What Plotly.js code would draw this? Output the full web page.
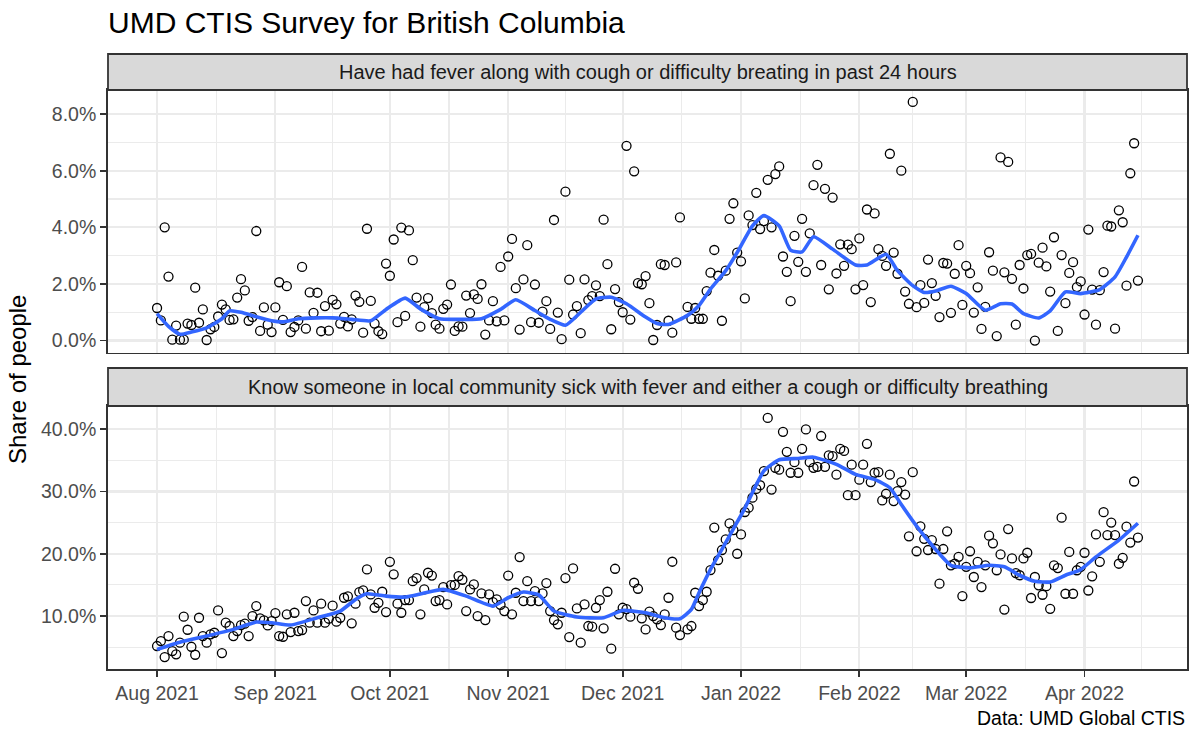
<!DOCTYPE html>
<html>
<head>
<meta charset="utf-8">
<script src="https://cdn.plot.ly/plotly-3.0.1.min.js"></script>
<style>html,body{margin:0;padding:0;background:#fff;}#chart{width:1200px;height:741px;}</style>
</head>
<body>
<div id="chart"></div>
<script>
// ---------- DATA (daily, starting 2021-08-01; index = day offset) ----------
const startDate = '2021-08-01';
const panelTitles = [
  'Have had fever along with cough or difficulty breating in past 24 hours',
  'Know someone in local community sick with fever and either a cough or difficulty breathing'
];
// Panel 1: share (%) with fever + cough/difficulty breathing
const feverVals = [
  1.15, 0.71, 4.0, 2.26, 0.03, 0.53, 0.03, 0.03, 0.6, 0.55,
  1.87, 0.63, 1.1, 0.02, 0.4, 0.48, 0.85, 1.27, 1.1, 0.73,
  0.75, 1.52, 2.17, 1.77, 0.7, 0.83, 3.87, 0.34, 1.17, 0.56,
  0.3, 1.17, 2.06, 0.73, 1.92, 0.3, 0.48, 0.71, 2.6, 0.42,
  1.7, 0.98, 1.69, 0.33, 1.22, 0.35, 1.44, 1.28, 0.6, 0.84,
  0.5, 0.75, 1.59, 1.37, 0.28, 3.95, 1.4, 0.6, 0.33, 0.23,
  2.72, 2.29, 3.57, 0.65, 3.99, 0.87, 3.89, 2.84, 1.52, 0.49,
  1.18, 1.5, 0.97, 0.56, 0.42, 1.12, 1.27, 1.98, 0.34, 0.5,
  0.49, 1.59, 0.97, 1.63, 1.47, 1.99, 0.21, 0.71, 1.39, 0.68,
  2.6, 0.71, 2.97, 3.59, 1.85, 0.39, 2.16, 3.37, 0.65, 1.98,
  0.63, 1.02, 1.39, 0.41, 4.26, 0.99, 0.05, 5.26, 2.15, 0.92,
  1.22, 0.26, 2.16, 1.43, 1.57, 1.95, 1.57, 4.27, 2.7, 0.4,
  1.82, 1.36, 1.0, 6.88, 0.74, 5.98, 2.03, 1.99, 2.28, 1.32,
  0.02, 0.55, 2.7, 2.67, 0.7, 0.28, 2.76, 4.35, null, 1.19,
  0.77, 1.15, 0.77, 0.77, 1.75, 2.4, 3.2, 2.29, 0.7, 2.47,
  4.3, 4.85, 3.11, 2.8, 1.49, 4.42, 4.08, 5.22, 3.94, 4.22,
  5.68, 4.0, 5.88, 6.15, 2.97, 2.43, 1.39, 3.7, 2.78, 4.3,
  2.43, 3.79, 5.49, 6.21, 2.67, 5.36, 1.81, 5.05, 2.37, 3.4,
  2.64, 3.39, 3.23, 1.81, 3.61, 1.96, 4.63, 1.36, 4.49, 3.23,
  2.99, 2.64, 6.6, 3.11, 2.36, 6.0, 1.73, 1.3, 8.43, 1.18,
  1.96, 1.33, 2.86, 2.03, 1.58, 0.83, 2.74, 2.72, 0.98, 2.36,
  3.37, 1.26, 2.64, 2.38, 0.99, 1.88, 0.41, 1.19, 3.12, 2.47,
  0.16, 6.47, 2.41, 6.31, 2.18, 0.56, 2.67, 1.84, 3.02, 3.06,
  0.0, 2.75, 3.28, 2.62, 1.73, 3.65, 0.34, 3.02, 1.32, 2.39,
  2.77, 1.89, 2.09, 0.92, 3.92, 1.8, 0.56, 1.78, 2.42, 4.06,
  4.03, 0.42, 4.6, 4.18, 1.94, 5.91, 6.97, 2.12
];
// Panel 2: share (%) knowing someone sick in local community
const communityVals = [
  5.19, 5.99, 3.42, 6.79, 4.38, 3.85, 5.72, 9.9, 7.8, 5.07,
  3.79, 9.73, 6.79, 5.72, 7.06, 7.32, 10.9, 4.06, 8.93, 8.4,
  6.79, 7.59, 8.56, 8.77, 6.79, 10.0, 11.6, 9.63, 9.3, 8.5,
  9.2, 10.48, 6.79, 6.68, 10.27, 7.43, 10.53, 7.59, 7.75, 12.4,
  8.93, 10.9, 8.93, 11.98, 8.93, 9.57, 11.66, 9.09, 9.73, 12.94,
  13.16, 8.83, 11.98, 13.85, 14.12, 17.49, 13.48, 11.33, 12.13, 13.9,
  10.64, 18.7, 16.7, 11.98, 10.53, 12.57, 12.57, 15.6, 16.1, 10.27,
  14.28, 16.95, 16.5, 12.4, 12.57, 14.65, 11.87, 14.97, 15.0, 16.42,
  15.83, 10.8, 14.28, 15.08, 10.0, 13.64, 9.36, 13.48, 12.24, 12.67,
  11.8, 10.8, 16.5, 10.27, 13.74, 19.47, 12.4, 15.6, 12.4, 14.0,
  12.4, 13.64, 15.3, 10.8, 9.36, 8.67, 10.53, 16.1, 6.63, 17.65,
  11.23, 5.72, 11.87, 8.4, 8.3, 11.33, 12.57, 8.03, 13.9, 4.76,
  17.59, 10.27, 11.33, 11.1, 9.9, 15.35, 14.38, 9.63, 7.86, 10.7,
  10.0, 9.47, 8.56, 10.27, 12.94, 18.72, 8.13, 6.95, null, 7.86,
  8.4, 13.74, 11.6, 12.57, 13.9, 17.38, 24.2, 18.98, 20.6, 22.3,
  24.87, 23.8, 20.0, 23.1, 26.7, 27.4, 29.0, 30.4, 31.0, 33.27,
  41.8, 30.3, 33.8, 33.5, 39.58, 36.37, 33.0, 34.7, 33.0, 36.85,
  39.96, 34.7, 33.8, 33.96, 38.9, 33.96, 35.8, 35.67, 32.7, 36.85,
  36.5, 29.4, 34.3, 29.4, 31.9, 34.3, 37.65, 31.5, 33.0, 33.1,
  28.56, 29.63, 32.7, 28.46, 30.06, 31.5, 29.5, 22.8, 33.1, 20.4,
  24.4, 22.4, 20.6, 22.2, 20.76, 15.2, 20.76, 23.6, 18.15, 18.4,
  19.5, 13.2, 17.9, 20.4, 16.27, 18.7, 14.65, 18.15, 22.9, 21.67,
  17.35, 19.9, 11.04, 23.97, 19.25, 16.9, 16.55, 19.25, 20.16, 12.9,
  16.27, 14.93, 13.42, 14.8, 11.16, 18.15, 17.7, 25.8, 13.58, 20.3,
  13.58, 17.35, 17.9, 20.16, 14.1, 16.37, 23.1, 18.7, 26.67, 23.0,
  25.0, 23.0, 18.4, 19.34, 24.35, 21.8, 31.6, 22.6
];
// Smoothed trend : day offsets and values (%)
const feverSmoothDays = [0,3,6,9,13,17,19,22,26,30,33,37,42,46,51,56,60,65,69,74,79,85,90,94,99,103,107,111,115,119,123,128,131,134,139,142,145,149,152,156,159,163,166,169,172,177,183,186,191,194,198,201,204,208,212,217,221,224,227,231,234,238,242,247,251,254,257];
const feverSmoothVals = [0.95,0.5,0.22,0.3,0.45,0.77,1.05,1.0,0.84,0.7,0.66,0.77,0.8,0.8,0.75,0.7,1.1,1.5,1.12,0.77,0.75,0.77,1.1,1.44,1.06,0.75,0.54,1.0,1.47,1.53,1.3,0.83,0.6,0.57,0.89,1.24,1.82,2.47,3.11,4.05,4.42,4.05,3.19,3.13,3.67,3.23,2.67,2.67,3.05,2.47,1.94,1.7,1.75,1.92,1.66,1.07,1.3,1.29,0.95,0.8,1.05,1.72,1.66,1.8,2.25,2.95,3.72];
const communitySmoothDays = [0,6,13,20,26,30,35,42,48,52,55,60,65,70,75,81,88,92,96,100,104,110,117,122,128,133,137,140,142,145,148,151,154,159,163,168,172,178,183,188,192,195,199,203,208,213,218,222,226,230,234,238,242,246,252,257];
const communitySmoothVals = [4.65,5.8,6.79,7.86,9.04,8.93,8.56,9.73,10.8,12.67,13.58,13.2,13.05,13.7,14.28,13.2,11.6,12.94,13.85,13.4,10.8,9.84,9.73,10.9,10.53,9.73,9.57,11.07,13.74,17.49,20.7,24.0,27.3,33.3,35.1,35.3,35.5,34.35,32.74,31.94,30.6,27.9,24.44,21.4,18.15,17.73,18.15,17.9,16.55,15.57,15.47,16.55,17.46,19.5,22.2,24.9];
const yTicksTop = [0, 2, 4, 6, 8];
const yTicksBottom = [10, 20, 30, 40];
const monthTicks = ['2021-08-01','2021-09-01','2021-10-01','2021-11-01','2021-12-01','2022-01-01','2022-02-01','2022-03-01','2022-04-01'];
const monthLabels = ['Aug 2021','Sep 2021','Oct 2021','Nov 2021','Dec 2021','Jan 2022','Feb 2022','Mar 2022','Apr 2022'];

// ---------- helpers ----------
const DAY = 86400000;
const t0 = Date.parse(startDate + 'T00:00:00Z');
function fmt(ms){ return new Date(ms).toISOString().slice(0,23).replace('T',' '); }
function dayToDate(d){ return fmt(t0 + d*DAY); }
const pctLabel = v => v.toFixed(1) + '%';
const dates = feverVals.map((_, i) => dayToDate(i));
const datesB = communityVals.map((_, i) => dayToDate(i));

// x range with 5% expansion of data span
const nDays = feverVals.length - 1;
const pad = nDays * 0.05;
const xRange = [dayToDate(-pad), dayToDate(nDays + pad)];

// minor x gridlines halfway between month starts
const monthEdges = ['2021-07-01'].concat(monthTicks, ['2022-05-01']).map(s => Date.parse(s + 'T00:00:00Z'));
const minorX = [];
for (let i = 0; i < monthEdges.length - 1; i++) minorX.push(fmt((monthEdges[i] + monthEdges[i+1]) / 2));

function yRange(vals){
  const v = vals.filter(x => x !== null);
  const mn = Math.min(...v), mx = Math.max(...v), e = (mx - mn) * 0.05;
  return [mn - e, mx + e];
}

// ---------- layout geometry ----------
const H = 741, mT = 54, mB = 72;
const plotH = H - mT - mB;
const py = y => (H - mB - y) / plotH; // pixel -> paper
const topDom = [py(352.5), py(90)];
const botDom = [0, py(406)];
const topStrip = [py(90), 1];
const botStrip = [py(406), py(368)];

const pointStyle = {symbol: 'circle-open', size: 9, color: '#000000', line: {width: 1.3, color: '#000000'}};
const lineStyle = {color: '#3366FF', width: 3.6, shape: 'spline', smoothing: 0.5};

const traces = [
  {x: dates, y: feverVals, xaxis: 'x2', yaxis: 'y2', mode: 'markers', type: 'scatter', marker: pointStyle},
  {x: feverSmoothDays.map(dayToDate), y: feverSmoothVals, xaxis: 'x2', yaxis: 'y2', mode: 'lines', type: 'scatter', line: lineStyle},
  {x: datesB, y: communityVals, xaxis: 'x', yaxis: 'y', mode: 'markers', type: 'scatter', marker: pointStyle},
  {x: communitySmoothDays.map(dayToDate), y: communitySmoothVals, xaxis: 'x', yaxis: 'y', mode: 'lines', type: 'scatter', line: lineStyle}
];

const gridC = '#EBEBEB', borderC = '#333333', tickC = '#4D4D4D';
const tickFont = {family: 'Liberation Sans, Arial, sans-serif', size: 19.5, color: tickC};

const xCommon = {
  type: 'date', range: xRange, domain: [0, 1],
  showgrid: true, gridcolor: gridC, gridwidth: 2.2,
  minor: {tickmode: 'array', tickvals: minorX, showgrid: true, gridcolor: gridC, gridwidth: 1.1, ticks: ''},
  tickmode: 'array', tickvals: monthTicks.map(s => s + ' 00:00'), ticktext: monthLabels,
  showline: true, linecolor: borderC, linewidth: 1.8, mirror: true,
  zeroline: false, tickfont: tickFont
};
const yCommon = {
  showgrid: true, gridcolor: gridC, gridwidth: 2.2,
  showline: true, linecolor: borderC, linewidth: 1.8, mirror: true,
  zeroline: false, ticks: 'outside', ticklen: 6, tickwidth: 1.8, tickcolor: borderC,
  tickfont: tickFont, tickmode: 'array'
};

const layout = {
  width: 1200, height: 741,
  margin: {l: 108, r: 13, t: mT, b: mB},
  paper_bgcolor: '#ffffff', plot_bgcolor: '#ffffff',
  showlegend: false,
  font: {family: 'Liberation Sans, Arial, sans-serif', color: '#000000'},
  title: {text: 'UMD CTIS Survey for British Columbia', x: 108/1200, xref: 'container', xanchor: 'left',
          y: 1 - 22/741, yref: 'container', yanchor: 'middle',
          font: {family: 'Liberation Sans, Arial, sans-serif', size: 30, color: '#000000'}},
  xaxis: Object.assign({}, xCommon, {anchor: 'y', ticks: 'outside', ticklen: 6, tickwidth: 1.8, tickcolor: borderC}),
  xaxis2: Object.assign({}, xCommon, {anchor: 'y2', matches: 'x', showticklabels: false, ticks: ''}),
  yaxis: Object.assign({}, yCommon, {domain: botDom, anchor: 'x', range: yRange(communityVals),
          tickvals: yTicksBottom, ticktext: yTicksBottom.map(pctLabel),
          minor: {dtick: 5, tick0: 0, showgrid: true, gridcolor: gridC, gridwidth: 1.1, ticks: ''}}),
  yaxis2: Object.assign({}, yCommon, {domain: topDom, anchor: 'x2', range: yRange(feverVals),
          tickvals: yTicksTop, ticktext: yTicksTop.map(pctLabel),
          minor: {dtick: 1, tick0: 0, showgrid: true, gridcolor: gridC, gridwidth: 1.1, ticks: ''}}),
  shapes: [
    {type: 'rect', xref: 'paper', yref: 'paper', x0: 0, x1: 1, y0: topStrip[0], y1: topStrip[1],
     fillcolor: '#D9D9D9', line: {color: borderC, width: 1.8}, layer: 'above'},
    {type: 'rect', xref: 'paper', yref: 'paper', x0: 0, x1: 1, y0: botStrip[0], y1: botStrip[1],
     fillcolor: '#D9D9D9', line: {color: borderC, width: 1.8}, layer: 'above'}
  ],
  annotations: [
    {text: panelTitles[0], xref: 'paper', yref: 'paper', x: 0.5, y: (topStrip[0] + topStrip[1]) / 2,
     xanchor: 'center', yanchor: 'middle', showarrow: false,
     font: {family: 'Liberation Sans, Arial, sans-serif', size: 20, color: '#1A1A1A'}},
    {text: panelTitles[1], xref: 'paper', yref: 'paper', x: 0.5, y: (botStrip[0] + botStrip[1]) / 2,
     xanchor: 'center', yanchor: 'middle', showarrow: false,
     font: {family: 'Liberation Sans, Arial, sans-serif', size: 20, color: '#1A1A1A'}},
    {text: 'Share of people', xref: 'paper', yref: 'paper', x: (18 - 108) / 1079, y: py(380),
     xanchor: 'center', yanchor: 'middle', textangle: -90, showarrow: false,
     font: {family: 'Liberation Sans, Arial, sans-serif', size: 24, color: '#000000'}},
    {text: 'Data: UMD Global CTIS', xref: 'paper', yref: 'paper', x: 1, y: py(718),
     xanchor: 'right', yanchor: 'middle', showarrow: false,
     font: {family: 'Liberation Sans, Arial, sans-serif', size: 19.5, color: '#000000'}}
  ]
};

Plotly.newPlot('chart', traces, layout, {displayModeBar: false, staticPlot: true});
</script>
</body>
</html>
